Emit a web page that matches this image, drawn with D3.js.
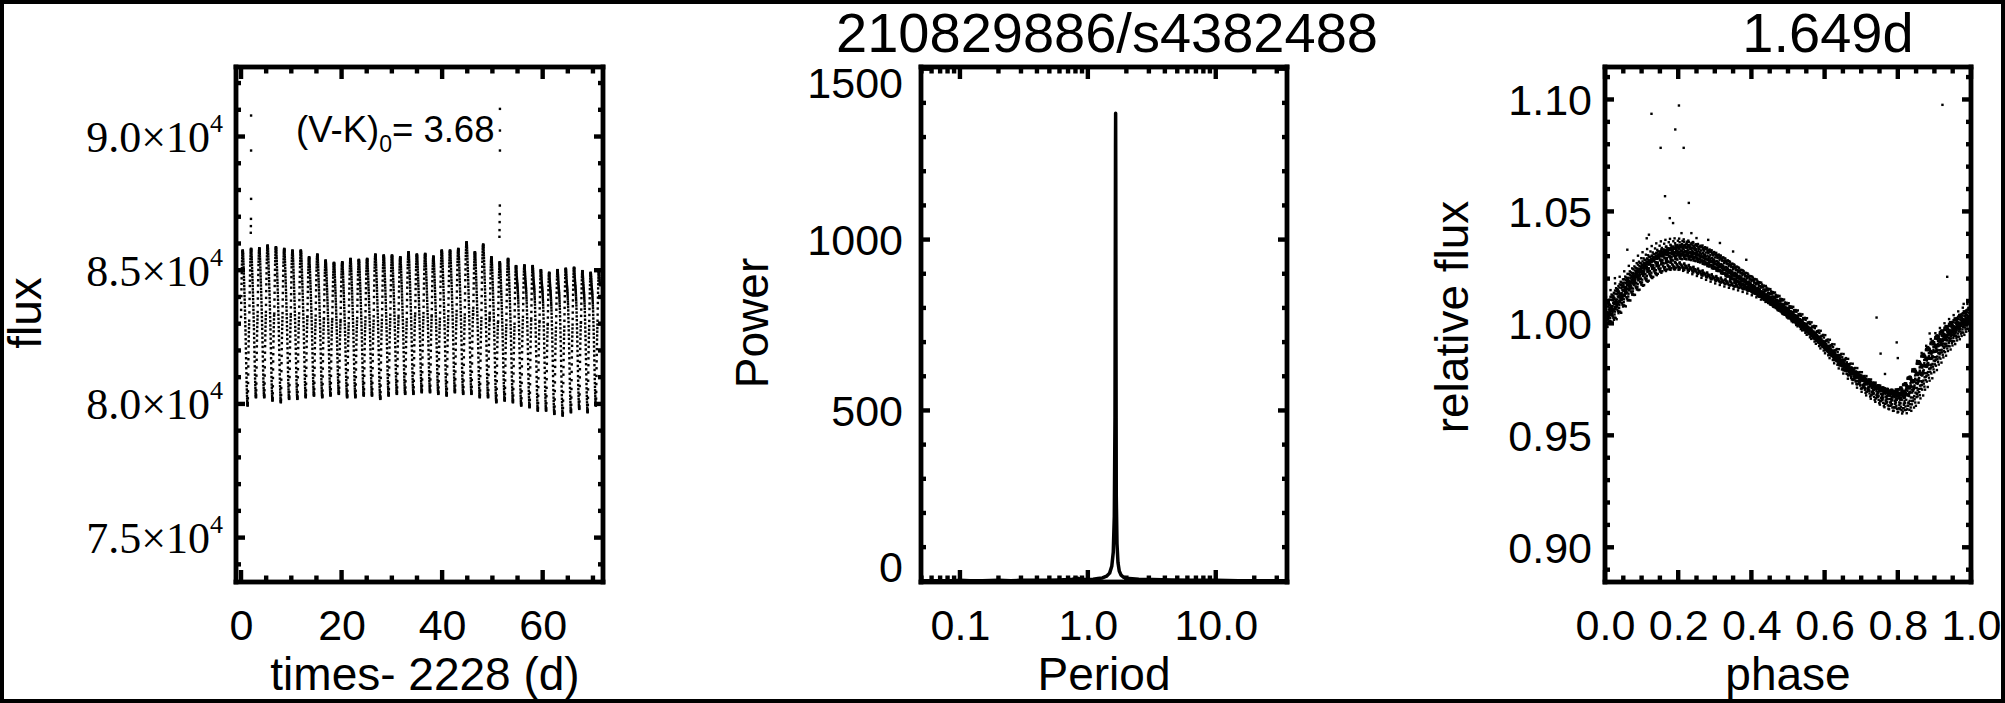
<!DOCTYPE html>
<html><head><meta charset="utf-8">
<script src="https://cdn.jsdelivr.net/npm/d3@7"></script>
<style>body{margin:0;background:#fff}svg{display:block}</style>
</head><body><svg id="c" width="2005" height="703"></svg>
<script>
// ---------------- DATA ----------------
const rotPeriod = 1.649;           // days
const fluxNorm = 82900;            // median flux used for the folded curve
const titleText = "210829886/s4382488";
const periodText = "1.649d";
const colourIndex = "3.68";

// template of the folded light curve (phase, relative flux)
const shapePhase = [0.0000,0.0125,0.0250,0.0375,0.0500,0.0625,0.0750,0.0875,0.1000,0.1125,0.1250,0.1375,0.1500,0.1625,0.1750,0.1875,0.2000,0.2125,0.2250,0.2375,0.2500,0.2625,0.2750,0.2875,0.3000,0.3125,0.3250,0.3375,0.3500,0.3625,0.3750,0.3875,0.4000,0.4125,0.4250,0.4375,0.4500,0.4625,0.4750,0.4875,0.5000,0.5125,0.5250,0.5375,0.5500,0.5625,0.5750,0.5875,0.6000,0.6125,0.6250,0.6375,0.6500,0.6625,0.6750,0.6875,0.7000,0.7125,0.7250,0.7375,0.7500,0.7625,0.7750,0.7875,0.8000,0.8125,0.8250,0.8375,0.8500,0.8625,0.8750,0.8875,0.9000,0.9125,0.9250,0.9375,0.9500,0.9625,0.9750,0.9875];
const shapeA = [1.0020,1.0048,1.0076,1.0103,1.0130,1.0152,1.0174,1.0195,1.0215,1.0229,1.0242,1.0254,1.0265,1.0273,1.0279,1.0283,1.0285,1.0284,1.0281,1.0276,1.0270,1.0261,1.0251,1.0241,1.0230,1.0218,1.0205,1.0193,1.0180,1.0168,1.0155,1.0143,1.0130,1.0116,1.0103,1.0089,1.0075,1.0060,1.0045,1.0030,1.0015,0.9999,0.9983,0.9966,0.9950,0.9931,0.9913,0.9894,0.9875,0.9855,0.9835,0.9815,0.9795,0.9777,0.9760,0.9744,0.9730,0.9717,0.9705,0.9694,0.9684,0.9676,0.9670,0.9666,0.9667,0.9676,0.9695,0.9723,0.9756,0.9790,0.9822,0.9851,0.9878,0.9902,0.9923,0.9942,0.9959,0.9975,0.9990,1.0005];
const shapeB = [1.0020,1.0045,1.0070,1.0093,1.0115,1.0135,1.0153,1.0170,1.0185,1.0197,1.0207,1.0214,1.0219,1.0221,1.0221,1.0219,1.0215,1.0209,1.0202,1.0195,1.0188,1.0180,1.0173,1.0166,1.0160,1.0154,1.0149,1.0144,1.0139,1.0133,1.0127,1.0120,1.0112,1.0103,1.0094,1.0084,1.0073,1.0060,1.0045,1.0030,1.0015,0.9999,0.9983,0.9966,0.9950,0.9931,0.9913,0.9894,0.9875,0.9855,0.9835,0.9815,0.9795,0.9777,0.9760,0.9744,0.9730,0.9717,0.9705,0.9694,0.9684,0.9676,0.9670,0.9666,0.9667,0.9676,0.9695,0.9723,0.9756,0.9790,0.9822,0.9851,0.9878,0.9902,0.9923,0.9942,0.9959,0.9975,0.9990,1.0005];

// per rotation cycle: start time (d), flux high/low, sample phase offset, template used
const cycleStart = [0.000,1.649,3.298,4.947,6.596,8.245,9.894,11.543,13.192,14.841,16.490,18.139,19.788,21.437,23.086,24.735,26.384,28.033,29.682,31.331,32.980,34.629,36.278,37.927,39.576,41.225,42.874,44.523,46.172,47.821,49.470,51.119,52.768,54.417,56.066,57.715,59.364,61.013,62.662,64.311,65.960,67.609,69.258,70.907];
const cycleHigh = [85736,85800,85823,85923,85860,85798,85736,85736,85486,85586,85362,85275,85300,85424,85387,85424,85586,85550,85550,85486,85674,85586,85611,85511,85736,85736,85798,86047,85674,85960,85486,85300,85424,85753,85788,85776,85607,85510,85630,85671,85697,85573,85472,85518];
const cycleLow = [79939,80250,80250,80126,80063,80188,80188,80250,80313,80250,80313,80375,80250,80250,80313,80313,80188,80313,80375,80375,80375,80438,80438,80375,80313,80438,80375,80375,80250,80250,80063,80126,80063,79939,79876,79751,79751,79626,79564,79689,79814,79689,79939,79900];
const cycleShift = [0.0000,0.0088,0.0051,0.0014,0.0102,0.0065,0.0028,0.0116,0.0079,0.0042,0.0005,0.0093,0.0056,0.0019,0.0107,0.0070,0.0033,0.0121,0.0084,0.0047,0.0010,0.0098,0.0061,0.0024,0.0112,0.0075,0.0038,0.0001,0.0089,0.0052,0.0015,0.0103,0.0066,0.0029,0.0117,0.0080,0.0043,0.0006,0.0094,0.0057,0.0020,0.0108,0.0071,0.0034];
const cycleDrift = [0.020,0.018,0.016,0.015,0.013,0.011,0.010,0.008,0.006,0.004,0.003,0.001,-0.001,-0.002,-0.004,-0.005,-0.006,-0.008,-0.009,-0.010,-0.011,-0.012,-0.012,-0.013,-0.013,-0.012,-0.011,-0.010,-0.008,-0.006,-0.004,-0.002,0.000,0.003,0.005,0.008,0.010,0.013,0.015,0.017,0.019,0.021,0.022,0.023];
const cycleShape = ["A","A","A","A","A","A","A","A","A","A","A","A","A","A","A","A","A","A","A","A","A","A","A","A","A","A","A","A","A","A","A","A","A","B","B","B","B","B","B","B","B","B","B","B"];
const lastTime = 71.4;

// flares / outliers in the light curve
const spikeTime = [2.0,2.0,2.0,1.98,1.96,1.94,51.5,51.5,51.5,51.48,51.46,51.44,51.42,51.40];
const spikeFlux = [90785,89476,87668,86920,86650,86400,91034,90224,89476,87419,87100,86800,86500,86250];

// outliers in the folded curve
const foldOutPhase = [0.027,0.061,0.120,0.114,0.127,0.152,0.164,0.177,0.186,0.192,0.202,0.209,0.215,0.229,0.236,0.250,0.282,0.314,0.350,0.386,0.658,0.742,0.753,0.765,0.797,0.800,0.887,0.920,0.922,0.935,0.980];
const foldOutFlux = [1.0202,1.0329,1.0396,1.0380,1.0936,1.0784,1.0568,1.0470,1.0448,1.0866,1.0973,1.0403,1.0784,1.0538,1.0403,1.0381,1.0373,1.0359,1.0321,1.0284,0.9845,1.0026,0.9865,0.9774,0.9915,0.9845,0.9955,0.9945,1.0976,1.0208,1.0087];

// periodogram
const pgPeriod = [0.0496,0.06,0.075,0.09,0.1,0.12,0.15,0.2,0.25,0.3,0.4,0.5,0.6,0.7,0.76,0.8,0.83,0.86,0.9,0.95,1.0,1.1,1.2,1.3,1.4,1.48,1.54,1.58,1.61,1.63,1.64,1.645,1.649,1.653,1.658,1.668,1.69,1.72,1.76,1.82,1.9,2.1,2.5,3.2,4.5,6.5,10,15,22,36.06];
const pgPower = [2,2,2,2,3,2,2,3,2,3,3,3,4,5,6,8,9,7,6,5,5,6,8,10,15,24,45,85,190,480,980,1270,1370,1200,800,250,110,55,30,18,12,8,6,5,4,3,3,2,2,2];

// tick values
const lcTimeTicks = [0,20,40,60];
const lcTimeMinor = [5,10,15,25,30,35,45,50,55,65,70];
const lcFluxTicks = [75000,80000,85000,90000];
const lcFluxMinor = [74000,76000,77000,78000,79000,81000,82000,83000,84000,86000,87000,88000,89000,91000,92000];
const pgPeriodTicks = [0.1,1,10];
const pgPeriodMinor = [0.05,0.06,0.07,0.08,0.09,0.2,0.3,0.4,0.5,0.6,0.7,0.8,0.9,2,3,4,5,6,7,8,9,20,30];
const pgPowerTicks = [0,500,1000,1500];
const pgPowerMinor = [100,200,300,400,600,700,800,900,1100,1200,1300,1400];
const phaseTicks = [0,0.2,0.4,0.6,0.8,1.0];
const phaseMinor = [0.05,0.1,0.15,0.25,0.3,0.35,0.45,0.5,0.55,0.65,0.7,0.75,0.85,0.9,0.95];
const relFluxTicks = [0.90,0.95,1.00,1.05,1.10];
const relFluxMinor = [0.89,0.91,0.92,0.93,0.94,0.96,0.97,0.98,0.99,1.01,1.02,1.03,1.04,1.06,1.07,1.08,1.09,1.11];

// ---------------- DRAWING ----------------
const FONT = "'Liberation Sans', Arial, Helvetica, sans-serif";
const SERIF = "'Liberation Serif', 'Times New Roman', serif";
const TOP = 67, BOT = 582;
const TW = 4.4;   // tick thickness
const svg = d3.select("#c");

// outer frame as filled bars
[[0,0,2005,4],[0,699,2005,4],[0,0,4,703],[2001,0,4,703]].forEach(r =>
  svg.append("rect").attr("x",r[0]).attr("y",r[1]).attr("width",r[2]).attr("height",r[3]).attr("fill","#000"));

function panel(x0, x1, xs, ys, o) {
  const g = svg.append("g");
  const tk = g.append("g").attr("fill", "#000");
  const vt = (vals, y, len) => tk.append("g").selectAll("rect").data(vals).join("rect")
    .attr("x", d => xs(d) - TW / 2).attr("width", TW)
    .attr("y", len < 0 ? y + len : y).attr("height", Math.abs(len));
  const ht = (vals, x, len) => tk.append("g").selectAll("rect").data(vals).join("rect")
    .attr("y", d => ys(d) - TW / 2).attr("height", TW)
    .attr("x", len < 0 ? x + len : x).attr("width", Math.abs(len));
  vt(o.xMaj, BOT, -12); vt(o.xMin, BOT, -6.5); vt(o.xMaj, TOP, 12); vt(o.xMin, TOP, 6.5);
  ht(o.yMaj, x0, 9); ht(o.yMin, x0, 5); ht(o.yMaj, x1, -9); ht(o.yMin, x1, -5);
  // labels through d3 axes
  const bx = g.append("g").attr("transform", `translate(0,${BOT})`)
    .call(d3.axisBottom(xs).tickValues(o.xMaj).tickSize(0).tickPadding(0).tickFormat(o.xFmt));
  const ly = g.append("g").attr("transform", `translate(${x0},0)`)
    .call(d3.axisLeft(ys).tickValues(o.yMaj).tickSize(0).tickPadding(0).tickFormat(o.yFmt));
  [bx, ly].forEach(a => { a.select(".domain").remove(); a.selectAll(".tick line").remove();
    a.attr("font-family", FONT).attr("font-size", 43); a.selectAll("text").attr("fill", "#000"); });
  bx.selectAll("text").attr("y", 58).attr("dy", 0);
  ly.selectAll("text").attr("x", -o.gap).attr("dy", 0).attr("y", 15.4);
  const B = 4.8;
  [[x0 - B/2, TOP - B/2, x1 - x0 + B, B], [x0 - B/2, BOT - B/2, x1 - x0 + B, B],
   [x0 - B/2, TOP - B/2, B, BOT - TOP + B], [x1 - B/2, TOP - B/2, B, BOT - TOP + B]].forEach(r =>
    g.append("rect").attr("x", r[0]).attr("y", r[1]).attr("width", r[2]).attr("height", r[3]).attr("fill", "#000"));
  g.append("text").attr("x", o.xtx).attr("y", 690).attr("text-anchor", "middle")
    .attr("font-family", FONT).attr("font-size", 46).text(o.xTitle);
  g.append("text").attr("transform", `translate(${o.ytx},${o.yty}) rotate(-90)`).attr("text-anchor", "middle")
    .attr("font-family", FONT).attr("font-size", 46).text(o.yTitle);
  return {g, ly, bx};
}

// ---- light curve points (cycle tables + template) ----
const lcPts = [], foldPts = [];
const rMin = d3.min(shapeA), rMax = d3.max(shapeA);
cycleStart.forEach((t0, k) => {
  const shp = cycleShape[k] === "A" ? shapeA : shapeB;
  shapePhase.forEach((ph, i) => {
    const phase = ph + cycleShift[k];
    const t = t0 + phase * rotPeriod;
    if (t > lastTime) return;
    const f = cycleLow[k] + (cycleHigh[k] - cycleLow[k]) * (shp[i] - rMin) / (rMax - rMin);
    lcPts.push([t, f]);
    foldPts.push([(phase + cycleDrift[k] + 1) % 1, f / fluxNorm]);
  });
});
spikeTime.forEach((t, i) => lcPts.push([t, spikeFlux[i]]));
foldOutPhase.forEach((p, i) => foldPts.push([p, foldOutFlux[i]]));

// ---- Panel 1 ----
const x1s = d3.scaleLinear().domain([-1, 72]).range([236, 603]);
const y1s = d3.scaleLinear().domain([73340, 92600]).range([BOT, TOP]);
const p1 = panel(236, 603, x1s, y1s, {
  xMaj: lcTimeTicks, xMin: lcTimeMinor, yMaj: lcFluxTicks, yMin: lcFluxMinor,
  xFmt: d3.format("d"), yFmt: d => d, gap: 13,
  xTitle: "times- 2228 (d)", xtx: 425, yTitle: "flux", ytx: 41, yty: 313
});
p1.ly.selectAll("text").each(function(d) {
  const t = d3.select(this);
  t.text(null).attr("font-family", SERIF).attr("font-size", 44).attr("y", 15);
  t.append("tspan").text(d3.format(".1f")(d / 1e4) + "×10");
  t.append("tspan").attr("font-size", 26).attr("dy", -20).text("4");
});
p1.g.append("g").selectAll("rect").data(lcPts).join("rect")
  .attr("x", d => x1s(d[0]) - 1.2).attr("y", d => y1s(d[1]) - 1.2)
  .attr("width", 2.4).attr("height", 2.4).attr("fill", "#000");
const ann = p1.g.append("text").attr("x", 296).attr("y", 142).attr("font-family", FONT).attr("font-size", 36.5);
ann.append("tspan").text("(V-K)");
ann.append("tspan").attr("font-size", 23).attr("dy", 10).text("0");
ann.append("tspan").attr("dy", -10).text("= " + colourIndex);

// ---- Panel 2 ----
const x2s = d3.scaleLog().domain([0.0496, 36.06]).range([921, 1287]);
const y2s = d3.scaleLinear().domain([-2, 1505]).range([BOT, TOP]);
const p2 = panel(921, 1287, x2s, y2s, {
  xMaj: pgPeriodTicks, xMin: pgPeriodMinor, yMaj: pgPowerTicks, yMin: pgPowerMinor,
  xFmt: d => d3.format(".1f")(d), yFmt: d3.format("d"), gap: 18,
  xTitle: "Period", xtx: 1104, yTitle: "Power", ytx: 768, yty: 323
});
p2.ly.selectAll("text").filter(d => d === 1500).attr("y", 28.5);
p2.ly.selectAll("text").filter(d => d === 0).attr("y", 0.5);
svg.append("clipPath").attr("id", "clip2").append("rect").attr("x", 921).attr("y", TOP).attr("width", 366).attr("height", BOT - TOP);
p2.g.append("path").datum(pgPeriod.map((p, i) => [p, pgPower[i]]))
  .attr("clip-path", "url(#clip2)")
  .attr("d", d3.line().x(d => x2s(d[0])).y(d => y2s(d[1])))
  .attr("fill", "none").attr("stroke", "#000").attr("stroke-width", 3.5).attr("stroke-linejoin", "round");

// ---- Panel 3 ----
const x3s = d3.scaleLinear().domain([0, 1]).range([1605, 1971]);
const y3s = d3.scaleLinear().domain([0.8845, 1.1145]).range([BOT, TOP]);
const p3 = panel(1605, 1971, x3s, y3s, {
  xMaj: phaseTicks, xMin: phaseMinor, yMaj: relFluxTicks, yMin: relFluxMinor,
  xFmt: d3.format(".1f"), yFmt: d3.format(".2f"), gap: 13,
  xTitle: "phase", xtx: 1788, yTitle: "relative flux", ytx: 1468, yty: 317
});
p3.g.append("g").selectAll("rect").data(foldPts).join("rect")
  .attr("x", d => x3s(d[0]) - 1.2).attr("y", d => y3s(d[1]) - 1.2)
  .attr("width", 2.4).attr("height", 2.4).attr("fill", "#000");

// ---- titles ----
svg.append("text").attr("x", 1107).attr("y", 52).attr("text-anchor", "middle")
  .attr("font-family", FONT).attr("font-size", 56).text(titleText);
svg.append("text").attr("x", 1828).attr("y", 52).attr("text-anchor", "middle")
  .attr("font-family", FONT).attr("font-size", 56).text(periodText);
</script></body></html>
